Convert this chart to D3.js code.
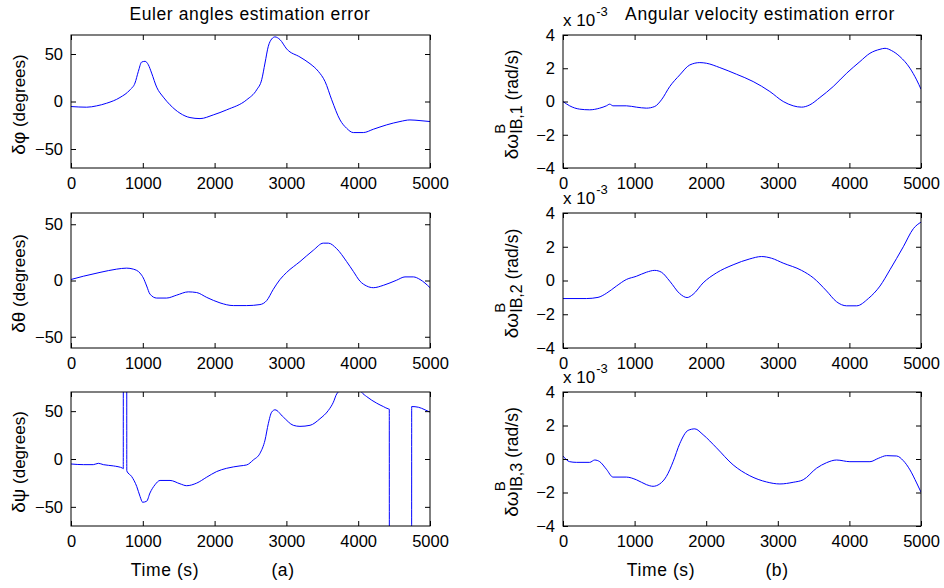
<!DOCTYPE html>
<html>
<head>
<meta charset="utf-8">
<script src="https://d3js.org/d3.v7.min.js"></script>
<style>
  body { margin: 0; background: #fff; }
  text { font-family: "Liberation Sans", Arial, sans-serif; fill: #000; }
</style>
</head>
<body>
<svg id="chart" width="944" height="588"></svg>
<script>
// ---- data ----
var xTicks = [0, 1000, 2000, 3000, 4000, 5000];
var degTicks = [-50, 0, 50];
var omegaTicks = [-4, -2, 0, 2, 4];

// Euler angle errors, degrees
var tPhi = [0, 218, 357, 497, 682, 822, 891, 938, 984, 1031, 1077, 1123, 1193, 1286, 1379, 1518, 1657, 1797, 1982, 2168, 2447, 2586, 2656, 2702, 2748, 2795, 2841, 2911, 3004, 3189, 3329, 3445, 3538, 3631, 3747, 3839, 3932, 4071, 4211, 4396, 4582, 4721, 4861, 5000];
var phi = [-5.3, -6, -4.6, -1.8, 4.2, 12.3, 19.4, 31.7, 41.5, 42.3, 38.7, 29.9, 15.1, 4.6, -3.5, -12.3, -16.9, -18, -14.1, -8.8, 1.8, 12.3, 22.9, 40.5, 58.1, 65.8, 68, 65.1, 55.3, 46.8, 39.8, 31.7, 21.1, 1.8, -19.4, -28.2, -32.7, -32.7, -29.2, -24.6, -21.1, -19.4, -20.1, -21.1];

var tTheta = [0, 172, 404, 636, 775, 868, 961, 1007, 1054, 1100, 1193, 1332, 1472, 1634, 1750, 1890, 2075, 2261, 2447, 2632, 2725, 2818, 2911, 3004, 3189, 3375, 3514, 3584, 3700, 3839, 3932, 4025, 4118, 4211, 4350, 4536, 4652, 4768, 4861, 5000];
var theta = [0.9, 3.8, 7.2, 10.1, 11, 10.1, 6.6, 2.3, -4.9, -12.1, -15.6, -15.6, -13, -10.1, -10.7, -15, -19.9, -22.3, -22.3, -21.4, -17.9, -7.8, 0.9, 7.2, 16.8, 26.9, 33.2, 33.2, 28.3, 16.8, 8.1, -0.6, -4.9, -6.4, -4.3, 0.3, 3.2, 3.2, 0.9, -6.4];

var tPsi = [0, 172, 311, 381, 450, 590, 720, 728, 729, 776, 777, 845, 915, 961, 998, 1054, 1100, 1170, 1240, 1379, 1518, 1611, 1750, 1890, 2029, 2168, 2354, 2447, 2539, 2632, 2702, 2748, 2795, 2841, 2957, 3096, 3189, 3329, 3468, 3584, 3654, 3700, 3723, 3800, 3900, 4000, 4048, 4118, 4258, 4350, 4420, 4433, 4434, 4744, 4745, 4838, 4930, 5000];
var psi = [-5.2, -5.9, -5.9, -4.5, -5.9, -7.2, -9.6, -10.2, 170, 170, -12.5, -18.3, -28.6, -39, -45.2, -44.1, -35.5, -26.9, -22.4, -22.4, -25.9, -27.9, -25.2, -19, -13.1, -9.7, -7.2, -6.2, -1, 5.9, 19.7, 36.9, 49, 51.4, 43.8, 35.2, 34.1, 35.2, 42.1, 50.7, 59.3, 67.9, 70, 76, 79, 75, 69.7, 65.2, 58.3, 54.8, 52.4, 52.2, -128, -126, 54.8, 54.1, 51.4, 49];

// Angular velocity errors, x 10^-3 rad/s
var tW1 = [0, 93, 233, 373, 513, 606, 652, 699, 885, 1025, 1165, 1281, 1375, 1491, 1631, 1771, 1911, 2004, 2190, 2423, 2656, 2889, 3076, 3215, 3332, 3448, 3588, 3774, 3961, 4147, 4287, 4427, 4497, 4590, 4706, 4846, 4939, 5000];
var w1 = [0, -0.26, -0.46, -0.5, -0.4, -0.26, -0.16, -0.26, -0.26, -0.34, -0.4, -0.3, 0.1, 0.9, 1.6, 2.2, 2.34, 2.3, 2.04, 1.64, 1.2, 0.6, 0, -0.26, -0.34, -0.2, 0.24, 0.9, 1.7, 2.4, 2.9, 3.14, 3.2, 3.06, 2.7, 2.0, 1.3, 0.74];

var tW2 = [0, 326, 489, 606, 746, 885, 1025, 1165, 1281, 1375, 1491, 1631, 1733, 1817, 1957, 2143, 2376, 2609, 2772, 2912, 3075, 3332, 3495, 3681, 3821, 3961, 4101, 4264, 4427, 4567, 4753, 4893, 5000];
var w2 = [-1.07, -1.07, -1.0, -0.76, -0.33, 0.06, 0.25, 0.49, 0.6, 0.49, -0.04, -0.78, -1.01, -0.82, -0.14, 0.45, 0.93, 1.28, 1.42, 1.32, 1.03, 0.6, 0.16, -0.62, -1.26, -1.5, -1.5, -1.07, -0.33, 0.64, 2.0, 3.07, 3.46];

var tW3 = [0, 93, 186, 373, 443, 513, 606, 699, 885, 1025, 1165, 1258, 1351, 1444, 1538, 1631, 1748, 1841, 1957, 2143, 2376, 2609, 2842, 3029, 3215, 3355, 3541, 3681, 3821, 4007, 4287, 4404, 4520, 4660, 4753, 4846, 4939, 5000];
var w3 = [0.18, -0.16, -0.2, -0.2, -0.06, -0.16, -0.61, -1.08, -1.08, -1.24, -1.53, -1.63, -1.49, -1.04, -0.16, 0.92, 1.71, 1.8, 1.45, 0.67, -0.35, -1.0, -1.37, -1.49, -1.39, -1.24, -0.55, -0.22, -0.06, -0.16, -0.16, 0.04, 0.2, 0.18, -0.1, -0.65, -1.43, -1.98];

// ---- layout ----
var svg = d3.select("#chart");
var cols = [[71, 430], [563, 921]];
var rows = [[35, 168], [213, 348], [392, 526]];

var panels = [
  { col: 0, row: 0, t: tPhi, v: phi, dom: [-70, 70], ticks: degTicks, greek: "δφ" },
  { col: 0, row: 1, t: tTheta, v: theta, dom: [-60, 60], ticks: degTicks, greek: "δθ" },
  { col: 0, row: 2, t: tPsi, v: psi, dom: [-70, 70], ticks: degTicks, greek: "δψ" },
  { col: 1, row: 0, t: tW1, v: w1, dom: [-4, 4], ticks: omegaTicks, sub: "IB,1" },
  { col: 1, row: 1, t: tW2, v: w2, dom: [-4, 4], ticks: omegaTicks, sub: "IB,2" },
  { col: 1, row: 2, t: tW3, v: w3, dom: [-4, 4], ticks: omegaTicks, sub: "IB,3" }
];

panels.forEach(function (p, i) {
  var xr = cols[p.col], yr = rows[p.row];
  var x = d3.scaleLinear().domain([0, 5000]).range(xr);
  var y = d3.scaleLinear().domain(p.dom).range([yr[1], yr[0]]);

  svg.append("clipPath").attr("id", "clip" + i)
    .append("rect")
    .attr("x", xr[0]).attr("y", yr[0])
    .attr("width", xr[1] - xr[0]).attr("height", yr[1] - yr[0]);

  var pts = p.t.map(function (t, k) { return [t, p.v[k]]; });
  var line = d3.line()
    .x(function (d) { return x(d[0]); })
    .y(function (d) { return y(d[1]); })
    .curve(d3.curveMonotoneX);

  svg.append("path")
    .datum(pts)
    .attr("clip-path", "url(#clip" + i + ")")
    .attr("fill", "none")
    .attr("stroke", "#0000ff")
    .attr("stroke-width", 1)
    .attr("d", line);

  // axes, ticks pointing inward on all four sides
  var fmt = d3.format("d");
  var gb = svg.append("g").attr("transform", "translate(0," + yr[1] + ")")
    .call(d3.axisBottom(x).tickValues(xTicks).tickSize(-5).tickPadding(9).tickFormat(fmt));
  var gt = svg.append("g").attr("transform", "translate(0," + yr[0] + ")")
    .call(d3.axisTop(x).tickValues(xTicks).tickSize(-5).tickFormat(""));
  var gl = svg.append("g").attr("transform", "translate(" + xr[0] + ",0)")
    .call(d3.axisLeft(y).tickValues(p.ticks).tickSize(-5).tickPadding(8).tickFormat(fmt));
  var gr = svg.append("g").attr("transform", "translate(" + xr[1] + ",0)")
    .call(d3.axisRight(y).tickValues(p.ticks).tickSize(-5).tickFormat(""));
  [gb, gt, gl, gr].forEach(function (g) {
    g.select(".domain").remove();
    g.selectAll("text").attr("font-size", 16.5).attr("font-family", null).attr("fill", "#000");
    g.selectAll("line").attr("stroke", "#000");
  });

  svg.append("rect")
    .attr("x", xr[0]).attr("y", yr[0])
    .attr("width", xr[1] - xr[0]).attr("height", yr[1] - yr[0])
    .attr("fill", "none").attr("stroke", "#000").attr("stroke-width", 1);

  var cy = (yr[0] + yr[1]) / 2 + 3;
  if (p.greek) {
    var lab = svg.append("text")
      .attr("transform", "translate(25," + cy + ") rotate(-90)")
      .attr("text-anchor", "middle")
      .attr("font-size", 17);
    lab.append("tspan").attr("font-size", 19).text(p.greek);
    lab.append("tspan").text(" (degrees)");
  } else {
    // δω^B_{IB,k} (rad/s)
    var g = svg.append("g").attr("transform", "translate(518," + cy + ") rotate(-90)");
    var a = g.append("text").attr("font-size", 19).text("δω");
    var w0 = a.node().getComputedTextLength();
    var s = g.append("text").attr("x", w0).attr("y", 4).attr("font-size", 16).text(p.sub);
    g.append("text").attr("x", w0).attr("y", -13).attr("font-size", 15).text("B");
    var ws = s.node().getComputedTextLength();
    var r = g.append("text").attr("x", w0 + ws + 5).attr("font-size", 17.5).text("(rad/s)");
    var total = w0 + ws + 5 + r.node().getComputedTextLength();
    g.selectAll("text").attr("dx", -total / 2);

    // x 10^-3 multiplier
    var m = svg.append("text").attr("x", xr[0]).attr("y", yr[0] - 9).attr("font-size", 17);
    m.append("tspan").text("x 10");
    m.append("tspan").attr("dx", 1).attr("dy", -10).attr("font-size", 13).text("-3");
  }
});

// titles and bottom labels
function label(x, y, txt) {
  svg.append("text").attr("x", x).attr("y", y).attr("text-anchor", "middle")
    .attr("font-size", 17.5).attr("letter-spacing", 0.6).text(txt);
}
label(250, 20, "Euler angles estimation error");
label(760, 20, "Angular velocity estimation error");
label(165, 576, "Time (s)");
label(283, 576, "(a)");
label(661, 576, "Time (s)");
label(777, 576, "(b)");
</script>
</body>
</html>
